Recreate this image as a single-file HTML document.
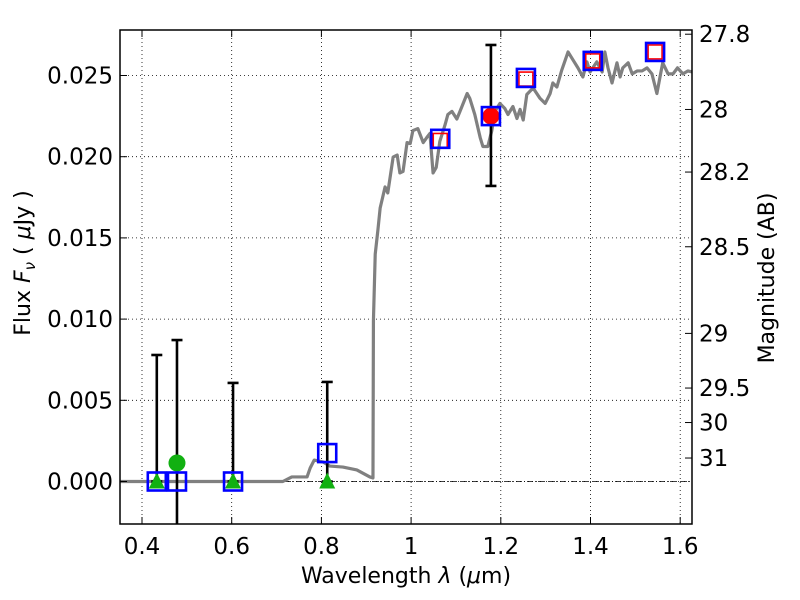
<!DOCTYPE html>
<html><head><meta charset="utf-8"><style>
html,body{margin:0;background:#fff;overflow:hidden;width:800px;height:600px;}
svg{display:block;font-family:"DejaVu Sans","Liberation Sans",sans-serif;}
</style></head><body>
<svg id="chart" width="800" height="600" xmlns="http://www.w3.org/2000/svg"></svg>
<script>
const specLam=[0.351,0.714,0.734,0.768,0.775,0.784,0.804,0.819,0.848,0.879,0.908,0.915,0.916,0.920,0.926,0.931,0.942,0.948,0.960,0.969,0.975,0.982,0.991,0.998,1.004,1.015,1.027,1.035,1.042,1.049,1.056,1.064,1.076,1.082,1.091,1.102,1.109,1.125,1.131,1.142,1.154,1.160,1.171,1.180,1.187,1.198,1.209,1.216,1.227,1.236,1.243,1.250,1.258,1.272,1.287,1.299,1.310,1.316,1.325,1.336,1.350,1.361,1.372,1.383,1.392,1.399,1.414,1.426,1.432,1.439,1.448,1.459,1.466,1.472,1.484,1.493,1.504,1.515,1.526,1.537,1.548,1.555,1.561,1.573,1.584,1.594,1.606,1.617,1.627];
const specFlux=[0,0,0.00028,0.00028,0.00083,0.00132,0.00120,0.00095,0.00089,0.00071,0.00028,0.00022,0.0099,0.0140,0.01549,0.01684,0.01814,0.01777,0.01998,0.02010,0.01900,0.01909,0.02087,0.02081,0.02161,0.02173,0.02087,0.02118,0.02143,0.01900,0.01934,0.02094,0.02199,0.02260,0.02279,0.02232,0.02279,0.02389,0.02358,0.02260,0.02118,0.02063,0.02063,0.02161,0.02279,0.02328,0.02297,0.02260,0.02309,0.02235,0.02291,0.02226,0.02383,0.02423,0.02361,0.02328,0.02389,0.02454,0.02429,0.02534,0.02645,0.02596,0.02547,0.02491,0.02584,0.02522,0.02584,0.02522,0.02645,0.02547,0.02454,0.02578,0.02491,0.02547,0.02578,0.02510,0.02528,0.02528,0.02547,0.02510,0.02389,0.02491,0.02578,0.02510,0.02510,0.02547,0.02510,0.02528,0.02522];
const bandLam=[0.433,0.478,0.603,0.813,1.065,1.178,1.256,1.405,1.544];
const bandFlux=[0,0,0,0.00175,0.0211,0.0225,0.02485,0.0259,0.02645];
const redSqLam=[1.065,1.256,1.405,1.544];
const redSqFlux=[0.0210,0.02478,0.0259,0.02645];
const redDotLam=[1.178];
const redDotFlux=[0.0225];
const greenTriLam=[0.433,0.603,0.813];
const greenTriFlux=[0,0,0];
const greenDotLam=[0.478];
const greenDotFlux=[0.00114];
const errLam=[0.433,0.478,0.603,0.813,1.178];
const errLo=[0,-0.01,0,0,0.0182];
const errHi=[0.00779,0.00871,0.00607,0.00613,0.02688];
const xTicks=[0.4,0.6,0.8,1.0,1.2,1.4,1.6];
const xTickLabels=["0.4","0.6","0.8","1","1.2","1.4","1.6"];
const yTicks=[0,0.005,0.010,0.015,0.020,0.025];
const yTickLabels=["0.000","0.005","0.010","0.015","0.020","0.025"];
const magTicks=[27.8,28,28.2,28.5,29,29.5,30,31];
const magTickLabels=["27.8","28","28.2","28.5","29","29.5","30","31"];

const L=120,R=692,T=30,B=524;
const X=v=>142+(v-0.4)*448.5;
const Y=v=>481.5-v*16240;
const svg=document.getElementById('chart');
const NS='http://www.w3.org/2000/svg';
function mk(tag,attrs,parent){const e=document.createElementNS(NS,tag);for(const k in attrs)e.setAttribute(k,attrs[k]);(parent||svg).appendChild(e);return e;}

const defs=mk('defs',{});const cp=mk('clipPath',{id:'clip'},defs);mk('rect',{x:L,y:T,width:R-L,height:B-T},cp);

const grid=mk('g',{});


xTicks.forEach(v=>{mk('line',{x1:X(v),x2:X(v),y1:T,y2:B,stroke:'#000','stroke-width':0.8,'stroke-dasharray':'1,3'},grid);});
yTicks.forEach(v=>{mk('line',{x1:L,x2:R,y1:Y(v),y2:Y(v),stroke:'#000','stroke-width':0.8,'stroke-dasharray':'1,3'},grid);});

const plot=mk('g',{'clip-path':'url(#clip)'});
const zl=mk('line',{x1:L,x2:R,y1:Y(0),y2:Y(0),stroke:'#000','stroke-width':0.8,'stroke-dasharray':'6,2,1,2'},plot);


const sp=mk('polyline',{points:specLam.map((l,i)=>X(l)+','+Y(specFlux[i])).join(' '),fill:'none',stroke:'#808080','stroke-width':3.2,'stroke-linejoin':'round'},plot);


errLam.forEach((l,i)=>{
  const g=mk('g',{},plot);
  
  
  mk('line',{x1:X(l),x2:X(l),y1:Y(errLo[i]),y2:Y(errHi[i]),stroke:'#000','stroke-width':2.6},g);
  mk('line',{x1:X(l)-5.5,x2:X(l)+5.5,y1:Y(errHi[i]),y2:Y(errHi[i]),stroke:'#000','stroke-width':2.6},g);
  mk('line',{x1:X(l)-5.5,x2:X(l)+5.5,y1:Y(errLo[i]),y2:Y(errLo[i]),stroke:'#000','stroke-width':2.6},g);
});
greenTriLam.forEach((l,i)=>{const x=X(l),y=Y(greenTriFlux[i]);
  const t=mk('polygon',{points:`${x},${y-9} ${x-8},${y+7} ${x+8},${y+7}`,fill:'#11b011'},plot);
  
  });
greenDotLam.forEach((l,i)=>{const c=mk('circle',{cx:X(l),cy:Y(greenDotFlux[i]),r:8.5,fill:'#11b011'},plot);
  
  });
redDotLam.forEach((l,i)=>{const c=mk('circle',{cx:X(l),cy:Y(redDotFlux[i]),r:8.5,fill:'#f00'},plot);
  
  });
redSqLam.forEach((l,i)=>{const r=mk('rect',{x:X(l)-7,y:Y(redSqFlux[i])-7,width:14,height:14,fill:'none',stroke:'#f00','stroke-width':1.6},plot);
  
  });
bandLam.forEach((l,i)=>{const r=mk('rect',{x:X(l)-9,y:Y(bandFlux[i])-9,width:18,height:18,fill:'none',stroke:'#00f','stroke-width':2.6},plot);
  
  });

const fr=mk('rect',{x:L,y:T,width:R-L,height:B-T,fill:'none',stroke:'#000','stroke-width':1.5});



xTicks.forEach((v,i)=>{
  mk('line',{x1:X(v),x2:X(v),y1:B,y2:B-7,stroke:'#000','stroke-width':1});
  mk('line',{x1:X(v),x2:X(v),y1:T,y2:T+7,stroke:'#000','stroke-width':1});
  const t=mk('text',{x:X(v),y:B+30,'font-size':23,'text-anchor':'middle'});t.textContent=xTickLabels[i];
  
  
});
yTicks.forEach((v,i)=>{
  mk('line',{x1:L,x2:L+7,y1:Y(v),y2:Y(v),stroke:'#000','stroke-width':1});
  const t=mk('text',{x:L-7,y:Y(v)+8,'font-size':23,'text-anchor':'end'});t.textContent=yTickLabels[i];
  
  
});
magTicks.forEach((m,i)=>{
  const y=Y(Math.pow(10,(23.9-m)/2.5));
  mk('line',{x1:R,x2:R-7,y1:y,y2:y,stroke:'#000','stroke-width':1});
  const t=mk('text',{x:R+7,y:y+8,'font-size':23,'text-anchor':'start'});t.textContent=magTickLabels[i];
  
  
});
const xt=mk('text',{x:406,y:583,'font-size':22,'text-anchor':'middle'});
xt.innerHTML='Wavelength  <tspan font-style="italic">λ</tspan> (<tspan font-style="italic">μ</tspan>m)';


const yt=mk('text',{x:0,y:0,'font-size':22,'text-anchor':'middle',transform:'translate(30,263) rotate(-90)'});
yt.innerHTML='Flux  <tspan font-style="italic">F</tspan><tspan font-style="italic" font-size="15" dy="5">ν</tspan><tspan dy="-5">  (  </tspan><tspan font-style="italic">μ</tspan>Jy )';


const rt=mk('text',{x:0,y:0,'font-size':22,'text-anchor':'middle',transform:'translate(774,278) rotate(-90)'});
rt.textContent='Magnitude (AB)';


</script>
</body></html>
